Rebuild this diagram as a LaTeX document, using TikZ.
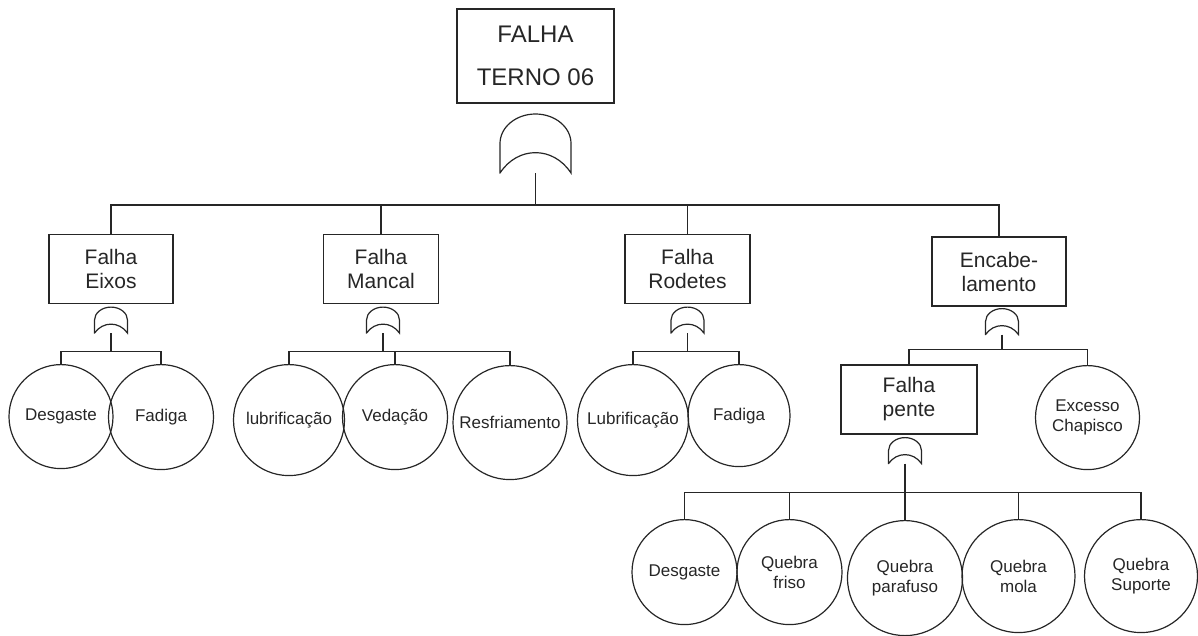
\documentclass[tikz,border=0pt]{standalone}
\usepackage{fontspec}
\setmainfont{Liberation Sans}
\usetikzlibrary{positioning,calc}

\begin{document}
\begin{tikzpicture}[
    x=1pt, y=-1pt,
    color=black!85, line width=1.2pt,
    box/.style={draw, minimum height=69, inner sep=0pt, align=center,
      font=\fontsize{21}{24}\selectfont},
    evt/.style={draw, circle, inner sep=0pt, align=center, anchor=north,
      font=\fontsize{17}{20}\selectfont},
    gate/.style={xscale=33, yscale=26},
    orgate/.pic={
      \draw (-0.5,0) -- (-0.5,-0.5) .. controls (-0.5,-0.776) and (-0.276,-1) .. (0,-1)
        .. controls (0.276,-1) and (0.5,-0.776) .. (0.5,-0.5) -- (0.5,0)
        .. controls (0.25,-0.46) and (-0.25,-0.46) .. cycle;
    }
  ]
  \useasboundingbox (0,0) rectangle (1198,635);

  % top event
  \node[box, minimum width=157, minimum height=94,
    font=\fontsize{24}{43}\selectfont] (top) at (535.5,56) {FALHA\\TERNO 06};
  \coordinate (g0) at (535.5,173);
  \pic[xscale=71, yscale=59] at (g0) {orgate};
  \coordinate (b0) at (535.5,205);

  % first level
  \node[box, minimum width=124] (eixos)   at (111,269)   {Falha\\Eixos};
  \node[box, minimum width=115] (mancal)  at (381,269)   {Falha\\Mancal};
  \node[box, minimum width=125] (rodetes) at (687.5,269) {Falha\\Rodetes};
  \node[box, minimum width=134] (encab)   at (999,271.5) {Encabe-\\lamento};

  \draw (g0) -- (b0);
  \draw (eixos.north) |- (b0) -| (encab.north);
  \draw (mancal.north) -- (mancal.north |- b0);
  \draw (rodetes.north) -- (rodetes.north |- b0);

  % gates under the first level
  \coordinate (g1) at ($(eixos.south)+(0,29)$);
  \coordinate (g2) at ($(mancal.south)+(2,29)$);
  \coordinate (g3) at ($(rodetes.south)+(0,29)$);
  \coordinate (g4) at ($(encab.south)+(3,28)$);
  \pic[gate] at (g1) {orgate};
  \pic[gate] at (g2) {orgate};
  \pic[gate] at (g3) {orgate};
  \pic[gate] at (g4) {orgate};
  \coordinate (b1) at ($(g1)+(0,18)$);
  \coordinate (b2) at ($(g2)+(0,18)$);
  \coordinate (b3) at ($(g3)+(0,18)$);
  \coordinate (b4) at ($(g4)+(0,15)$);

  % basic events
  \node[evt, minimum size=104] (des1)  at (61,364)    {Desgaste};
  \node[evt, minimum size=105] (fad1)  at (161,364)   {Fadiga};
  \node[evt, minimum size=111] (lub1)  at (289,364)   {lubrificação};
  \node[evt, minimum size=105] (ved)   at (395,364)   {Vedação};
  \node[evt, minimum size=114] (resf)  at (510,365)   {Resfriamento};
  \node[evt, minimum size=111] (lub2)  at (633,364)   {Lubrificação};
  \node[evt, minimum size=102] (fad2)  at (739,364)   {Fadiga};
  \node[evt, minimum size=104] (exc)   at (1087.5,365) {Excesso\\Chapisco};

  \node[box, minimum width=136] (pente) at (909,399.5) {Falha\\pente};

  \draw (g1) -- (b1);
  \draw (des1.north) |- (b1) -| (fad1.north);
  \draw (g2) -- (b2);
  \draw (lub1.north) |- (b2) -| (resf.north);
  \draw (ved.north) -- (ved.north |- b2);
  \draw (g3) -- (b3);
  \draw (lub2.north) |- (b3) -| (fad2.north);
  \draw (g4) -- (b4);
  \draw (pente.north) |- (b4) -| (exc.north);

  % falha pente
  \coordinate (g5) at ($(pente.south)+(-4,29)$);
  \pic[gate] at (g5) {orgate};
  \coordinate (b5) at ($(g5)+(0,29)$);

  \node[evt, minimum size=105] (des2)  at (684.5,519)  {Desgaste};
  \node[evt, minimum size=105] (friso) at (789.5,519)  {Quebra\\friso};
  \node[evt, minimum size=115] (para)  at (905,520)    {Quebra\\parafuso};
  \node[evt, minimum size=113] (mola)  at (1018.5,519) {Quebra\\mola};
  \node[evt, minimum size=113] (sup)   at (1141,519)   {Quebra\\Suporte};

  \draw (g5) -- (para.north);
  \draw (des2.north) |- (b5) -| (sup.north);
  \draw (friso.north) -- (friso.north |- b5);
  \draw (mola.north) -- (mola.north |- b5);
\end{tikzpicture}
\end{document}
